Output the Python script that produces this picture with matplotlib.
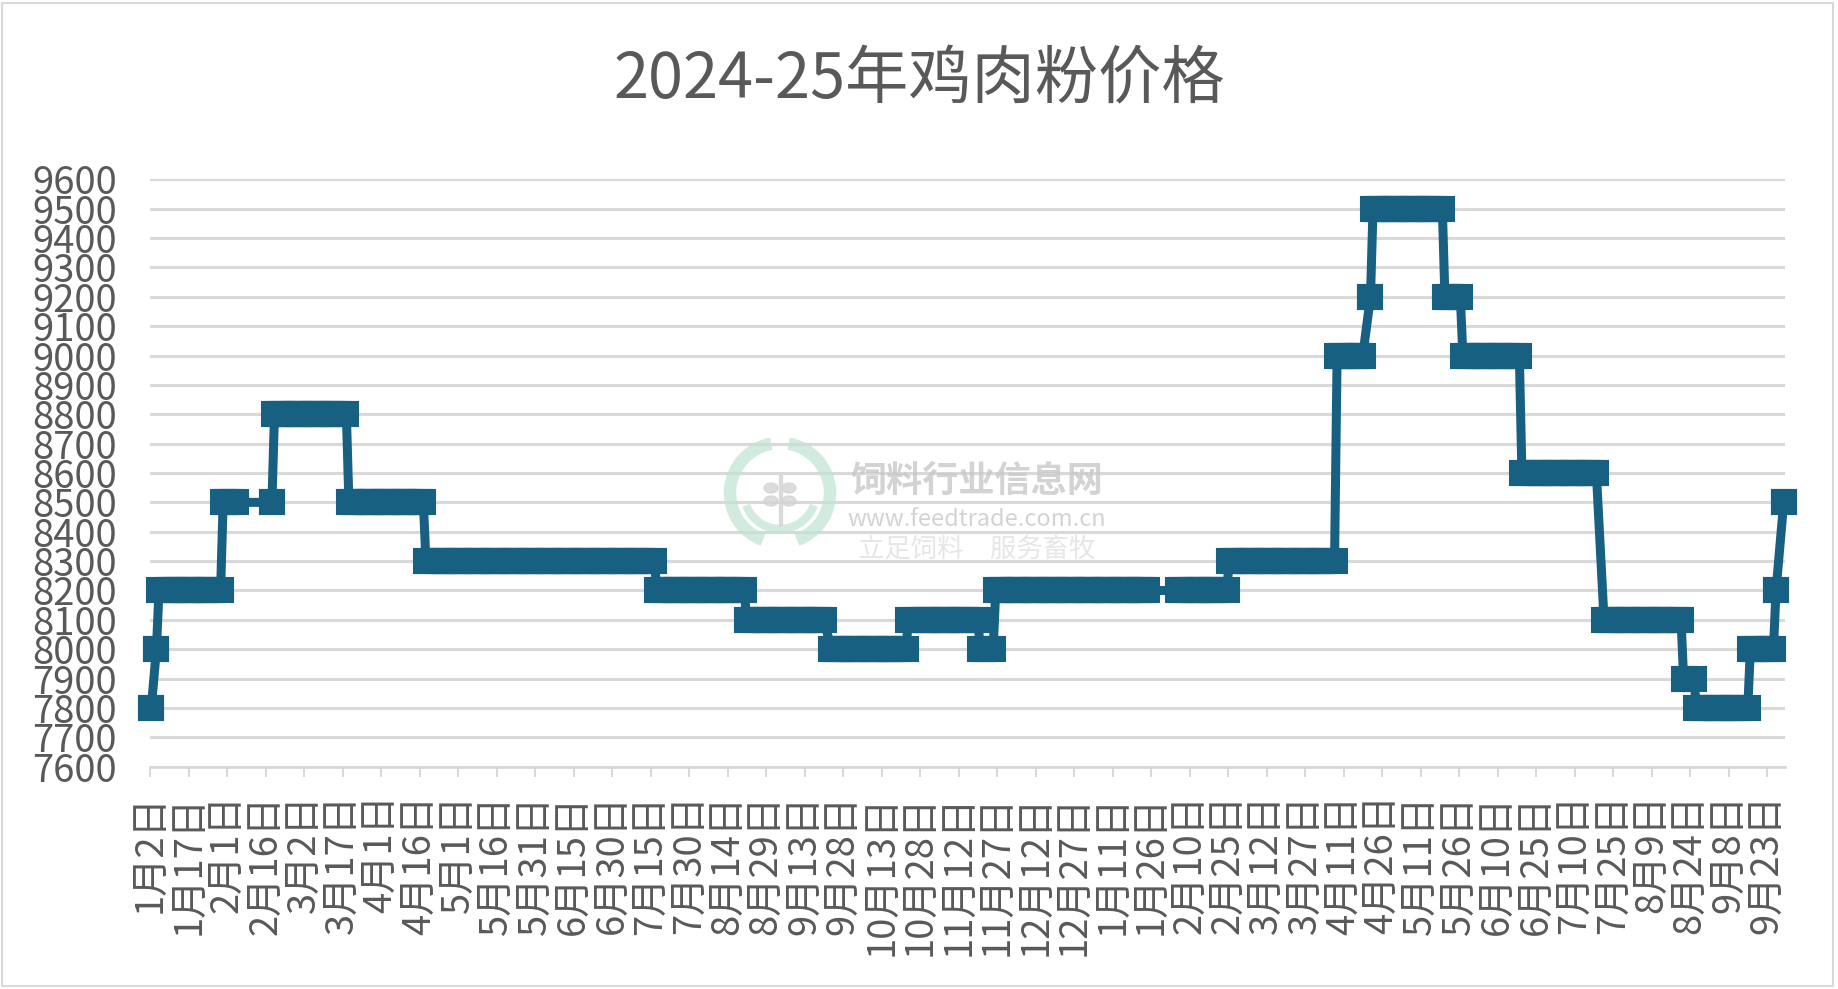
import pandas as pd
import numpy as np
import matplotlib
matplotlib.use('Agg')
import matplotlib.pyplot as plt
from matplotlib.patches import Rectangle, Arc, Ellipse

plt.rcParams['font.family'] = ['Noto Sans CJK SC', 'DejaVu Sans']

# 价格区间：起始日期、结束日期、价格
run_start = ['2024-01-02', '2024-01-04', '2024-01-05', '2024-01-30', '2024-02-18', '2024-02-19',
             '2024-03-19', '2024-04-18', '2024-07-17', '2024-08-21', '2024-09-23', '2024-10-23',
             '2024-11-20', '2024-11-26', '2025-02-05', '2025-02-25', '2025-04-08', '2025-04-21',
             '2025-04-22', '2025-05-20', '2025-05-27', '2025-06-19', '2025-07-21', '2025-08-21',
             '2025-08-26', '2025-09-16', '2025-09-26', '2025-09-29']
run_end = ['2024-01-02', '2024-01-04', '2024-01-29', '2024-02-04', '2024-02-18', '2024-03-18',
           '2024-04-17', '2024-07-16', '2024-08-20', '2024-09-20', '2024-10-22', '2024-11-19',
           '2024-11-25', '2025-01-24', '2025-02-24', '2025-04-07', '2025-04-18', '2025-04-21',
           '2025-05-19', '2025-05-26', '2025-06-18', '2025-07-18', '2025-08-20', '2025-08-25',
           '2025-09-15', '2025-09-25', '2025-09-26', '2025-09-29']
run_price = [7800, 8000, 8200, 8500, 8500, 8800,
             8500, 8300, 8200, 8100, 8000, 8100,
             8000, 8200, 8200, 8300, 9000, 9200,
             9500, 9200, 9000, 8600, 8100, 7900,
             7800, 8000, 8200, 8500]

tick_labels = ['1月2日', '1月17日', '2月1日', '2月16日', '3月2日', '3月17日', '4月1日', '4月16日',
               '5月1日', '5月16日', '5月31日', '6月15日', '6月30日', '7月15日', '7月30日', '8月14日',
               '8月29日', '9月13日', '9月28日', '10月13日', '10月28日', '11月12日', '11月27日',
               '12月12日', '12月27日', '1月11日', '1月26日', '2月10日', '2月25日', '3月12日',
               '3月27日', '4月11日', '4月26日', '5月11日', '5月26日', '6月10日', '6月25日',
               '7月10日', '7月25日', '8月9日', '8月24日', '9月8日', '9月23日']

# 每个区间展开为工作日数据点
xs, ys = [], []
for s, e, p in zip(run_start, run_end, run_price):
    d = pd.bdate_range(s, e).union(pd.DatetimeIndex([s, e]))
    xs.extend(d)
    ys.extend([p] * len(d))
x = pd.DatetimeIndex(xs) + pd.Timedelta(hours=12)

tick_dates = pd.date_range('2024-01-02', periods=len(tick_labels), freq='15D')

W, H = 1838, 989
c = '#176082'
grey = '#595959'
light = '#d9d9d9'

fig = plt.figure(figsize=(W / 100, H / 100), dpi=100)
ax = fig.add_axes([150 / W, 1 - 766.7 / H, 1635 / W, 587.4 / H])

ax.plot(x, ys, color=c, lw=6.5, marker='s', ms=17, mec=c, mew=1.5,
        solid_joinstyle='round', clip_on=False, zorder=3)

ax.set_ylim(7600, 9600)
ax.set_yticks(range(7600, 9601, 100))
ax.set_xlim(pd.Timestamp('2024-01-02'), pd.Timestamp('2025-09-30'))
ax.set_xticks(tick_dates)
ax.set_xticklabels(tick_labels, rotation=90)
ax.grid(axis='y', color=light, lw=2.2, zorder=0)
ax.set_axisbelow(True)

for s in ['top', 'right', 'left']:
    ax.spines[s].set_visible(False)
ax.spines['bottom'].set_color(light)
ax.spines['bottom'].set_linewidth(2)

ax.tick_params(axis='x', length=7, width=1.5, color=light, pad=13, labelsize=27.5, labelcolor=grey)
ax.tick_params(axis='y', length=0, pad=24, labelsize=27.5, labelcolor=grey)

fig.text(0.5, 1 - 80 / H, '2024-25年鸡肉粉价格', ha='center', va='center', fontsize=45.5, color=grey)

# 水印
def px(xp, yp):
    return xp / W, 1 - yp / H

cx, cy = 780 / 100, (H - 493) / 100
for a1, a2 in [(100, 250), (-70, 80)]:
    fig.add_artist(Arc((cx, cy), 1.0, 1.0, theta1=a1, theta2=a2, transform=fig.dpi_scale_trans,
                       color='#bfe3d2', lw=9, alpha=0.7))
fig.add_artist(Arc((cx, cy), 0.72, 0.72, theta1=200, theta2=340, transform=fig.dpi_scale_trans,
                   color='#bfe3d2', lw=6, alpha=0.7))
# 麦穗图形
for dx, dy in [(-0.09, 0.05), (0.09, 0.05), (-0.09, -0.08), (0.09, -0.08)]:
    fig.add_artist(Ellipse((cx + dx, cy + dy), 0.14, 0.1, transform=fig.dpi_scale_trans,
                           color='#d4d4d4', alpha=0.8))
fig.add_artist(Rectangle((cx - 0.015, cy - 0.32), 0.03, 0.5, transform=fig.dpi_scale_trans,
                         color='#d4d4d4', alpha=0.8))
fig.text(*px(977, 481), '饲料行业信息网', ha='center', va='center', fontsize=26, fontweight='bold',
         color='#c8c8c8', alpha=0.8)
fig.text(*px(977, 519), 'www.feedtrade.com.cn', ha='center', va='center', fontsize=17,
         color='#c8c8c8', alpha=0.8)
fig.text(*px(977, 549), '立足饲料　服务畜牧', ha='center', va='center', fontsize=19,
         color='#e0e0e0', alpha=0.8, style='italic')

fig.add_artist(Rectangle((2 / W, 3 / H), 1831 / W, 983 / H, transform=fig.transFigure,
                         fill=False, ec=light, lw=1.5))

fig.savefig('out.png', dpi=100)
